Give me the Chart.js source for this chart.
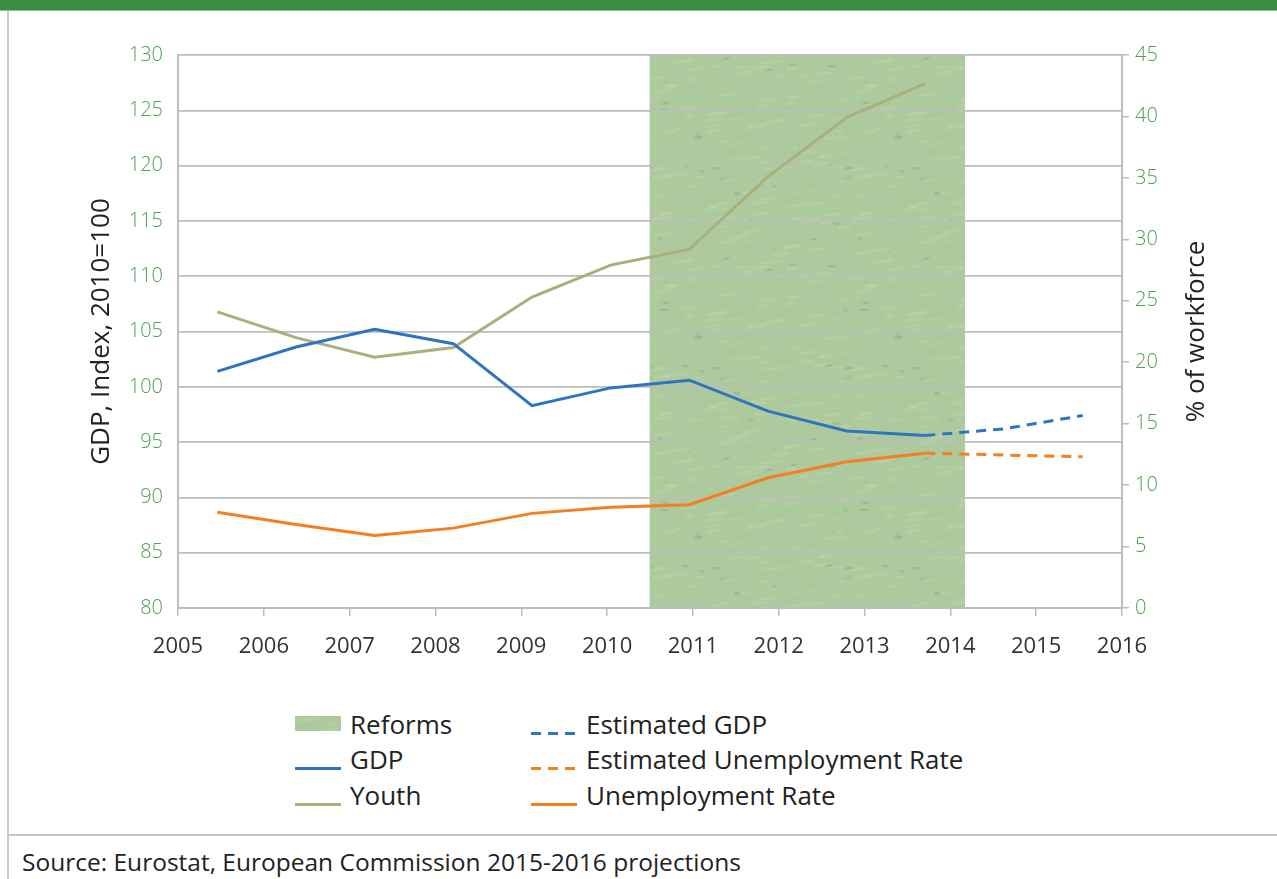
<!DOCTYPE html>
<html>
<head>
<meta charset="utf-8">
<script src="https://cdn.jsdelivr.net/npm/chart.js@4.4.1/dist/chart.umd.min.js"></script>
<style>
body{margin:0;width:1277px;height:879px;overflow:hidden;background:#fff;font-family:"Open Sans",sans-serif;position:relative}
#topbar{position:absolute;left:0;top:0;width:1277px;height:10px;background:#3a8c3f;border-bottom:1px solid #8fc290}
#frameLeft{position:absolute;left:7px;top:11px;width:2px;height:868px;background:#c9c9c9}
#frameBottom{position:absolute;left:7px;top:834px;width:1270px;height:2px;background:#c9c9c9}
#chart{position:absolute;left:0;top:0}
#legend{position:absolute;left:295px;top:706px;display:grid;grid-template-rows:repeat(3,35.5px);grid-auto-flow:column;grid-template-columns:236px auto}
.item{display:flex;align-items:center;font-size:26px;color:#222;white-space:nowrap}
.sw{width:46px;margin-right:9px;flex:none}
#source{position:absolute;left:22px;top:845px;font-size:24.5px;color:#222;white-space:nowrap}
</style>
</head>
<body>
<div id="topbar"></div>
<div id="frameLeft"></div>
<div id="frameBottom"></div>
<canvas id="chart" width="1277" height="680"></canvas>
<div id="legend"></div>
<div id="source">Source: Eurostat, European Commission 2015-2016 projections</div>
<script>
// yearly categories the series are plotted on
const years=['2005','2006','2007','2008','2009','2010','2011','2012','2013','2014','2015','2016'];

// reform period, shaded over the full left axis height
const reforms=[null,null,null,null,null,null,130,130,130,130,null,null];

// GDP index (2010=100), left axis
const gdp=[101.4,103.6,105.2,103.9,98.3,99.9,100.6,97.8,96.0,95.6,null,null];
const gdpEstimate=[null,null,null,null,null,null,null,null,null,95.6,96.2,97.4];

// % of workforce, right axis
const youth=[24.1,22.0,20.4,21.2,25.3,27.9,29.2,35.1,39.9,42.7,null,null];
const unemployment=[7.8,6.8,5.9,6.5,7.7,8.2,8.4,10.6,11.9,12.6,null,null];
const unemploymentEstimate=[null,null,null,null,null,null,null,null,null,12.6,12.45,12.3];

// axis ranges
const gdpRange=[80,130];
const workforceRange=[0,45];
const yearRange=[2005,2016];

// grassy fill for the reforms band
function grassTexture(){
    const c=document.createElement('canvas');
    c.width=200;c.height=200;
    const g=c.getContext('2d');
    g.fillStyle='#adca9f';
    g.fillRect(0,0,200,200);
    let s=11;
    const next=()=>(s=(s*9301+49297)%233280)/233280;
    for(let i=0;i<120;i++){
        g.fillStyle='rgba(200,218,165,0.35)';
        g.beginPath();
        g.ellipse(next()*200,next()*200,3+next()*9,0.8+next()*1.2,-0.12,0,Math.PI*2);
        g.fill();
    }
    for(let i=0;i<22;i++){
        g.fillStyle='rgba(130,140,130,0.3)';
        g.beginPath();
        g.ellipse(next()*200,next()*200,1.5+next()*3,0.8+next()*0.8,0,0,Math.PI*2);
        g.fill();
    }
    return c;
}
const textureCanvas=grassTexture();
const ctx=document.getElementById('chart').getContext('2d');
const grassPattern=ctx.createPattern(textureCanvas,'repeat');

// redraw the horizontal grid on top of the reforms band
const gridOverBand={
    id:'gridOverBand',
    afterDatasetDraw(chart,args){
        if(args.meta.type!=='bar')return;
        chart.ctx.save();
        chart.scales.y.drawGrid(chart.chartArea);
        chart.ctx.restore();
    }
};

// right axis title, reading bottom to top like the left one
const rightTitle={
    id:'rightTitle',
    afterDraw(chart,args,opts){
        const c=chart.ctx, a=chart.chartArea;
        c.save();
        c.translate(opts.x,(a.top+a.bottom)/2);
        c.rotate(-Math.PI/2);
        c.font='26px "Open Sans"';
        c.fillStyle='#222';
        c.textAlign='center';
        c.textBaseline='middle';
        c.fillText(opts.text,0,0);
        c.restore();
    }
};

const greenTick='#4f9f52';
const axisGray='#bdbdbd';

const chart=new Chart(ctx,{
    type:'bar',
    data:{
        labels:years,
        datasets:[
            {type:'bar',label:'Reforms',data:reforms,base:gdpRange[0],xAxisID:'xData',yAxisID:'y',
             backgroundColor:grassPattern,borderWidth:0,barPercentage:1,categoryPercentage:1,order:1},
            {type:'line',label:'GDP',data:gdp,xAxisID:'xData',yAxisID:'y',
             borderColor:'#2f74c0',borderWidth:3,pointRadius:0,tension:0,order:0},
            {type:'line',label:'Youth',data:youth,xAxisID:'xData',yAxisID:'y1',
             borderColor:'#a9b07c',borderWidth:3,pointRadius:0,tension:0,order:0},
            {type:'line',label:'Estimated GDP',data:gdpEstimate,xAxisID:'xData',yAxisID:'y',
             borderColor:'#2f74c0',borderWidth:3,borderDash:[10,7],pointRadius:0,tension:0,order:0},
            {type:'line',label:'Estimated Unemployment Rate',data:unemploymentEstimate,xAxisID:'xData',yAxisID:'y1',
             borderColor:'#f47f20',borderWidth:3,borderDash:[10,7],pointRadius:0,tension:0,order:0},
            {type:'line',label:'Unemployment Rate',data:unemployment,xAxisID:'xData',yAxisID:'y1',
             borderColor:'#f47f20',borderWidth:3,pointRadius:0,tension:0,order:0}
        ]
    },
    options:{
        responsive:false,
        animation:false,
        devicePixelRatio:1,
        layout:{padding:{top:55,left:0,right:0,bottom:0}},
        plugins:{
            legend:{display:false},
            tooltip:{enabled:false},
            rightTitle:{text:'% of workforce',x:1197}
        },
        scales:{
            xData:{type:'category',display:false,offset:true,position:'bottom'},
            x:{
                type:'linear',position:'bottom',min:yearRange[0],max:yearRange[1],offset:false,
                afterFit:s=>{s.height=72;},
                grid:{offset:false,drawOnChartArea:false,drawTicks:true,tickLength:8,color:axisGray,lineWidth:1.5},
                border:{color:axisGray,width:2},
                ticks:{stepSize:1,padding:18,color:'#333',font:{family:'"Open Sans"',size:22},callback:v=>String(v)}
            },
            y:{
                position:'left',min:gdpRange[0],max:gdpRange[1],
                afterFit:s=>{s.width=178;},
                grid:{color:axisGray,lineWidth:1.5,drawTicks:false},
                border:{color:axisGray,width:2},
                ticks:{stepSize:5,padding:15,color:greenTick,font:{family:'"Open Sans"',size:20,weight:300}},
                title:{display:true,text:'GDP, Index, 2010=100',color:'#222',font:{family:'"Open Sans"',size:26},padding:{top:86,bottom:0}}
            },
            y1:{
                position:'right',min:workforceRange[0],max:workforceRange[1],
                afterFit:s=>{s.width=155;},
                grid:{drawOnChartArea:false,drawTicks:true,tickLength:7,color:axisGray,lineWidth:1.5},
                border:{color:axisGray,width:2},
                ticks:{stepSize:5,padding:6,color:greenTick,font:{family:'"Open Sans"',size:20,weight:300}}
            }
        }
    },
    plugins:[gridOverBand,rightTitle]
});

// two-column legend built from the datasets
const legendBox=document.getElementById('legend');
chart.data.datasets.forEach(ds=>{
    const item=document.createElement('div');
    item.className='item';
    const sw=document.createElement('span');
    sw.className='sw';
    if(ds.type==='bar'){
        sw.style.height='15px';
        sw.style.background='url('+textureCanvas.toDataURL()+')';
    }else{
        sw.style.height='3px';
        sw.style.alignSelf='flex-end';
        sw.style.marginBottom='7px';
        sw.style.background=ds.borderDash
            ?'repeating-linear-gradient(90deg,'+ds.borderColor+' 0 10px,transparent 10px 17px)'
            :ds.borderColor;
    }
    const txt=document.createElement('span');
    txt.textContent=ds.label;
    item.appendChild(sw);
    item.appendChild(txt);
    legendBox.appendChild(item);
});
</script>
</body>
</html>
